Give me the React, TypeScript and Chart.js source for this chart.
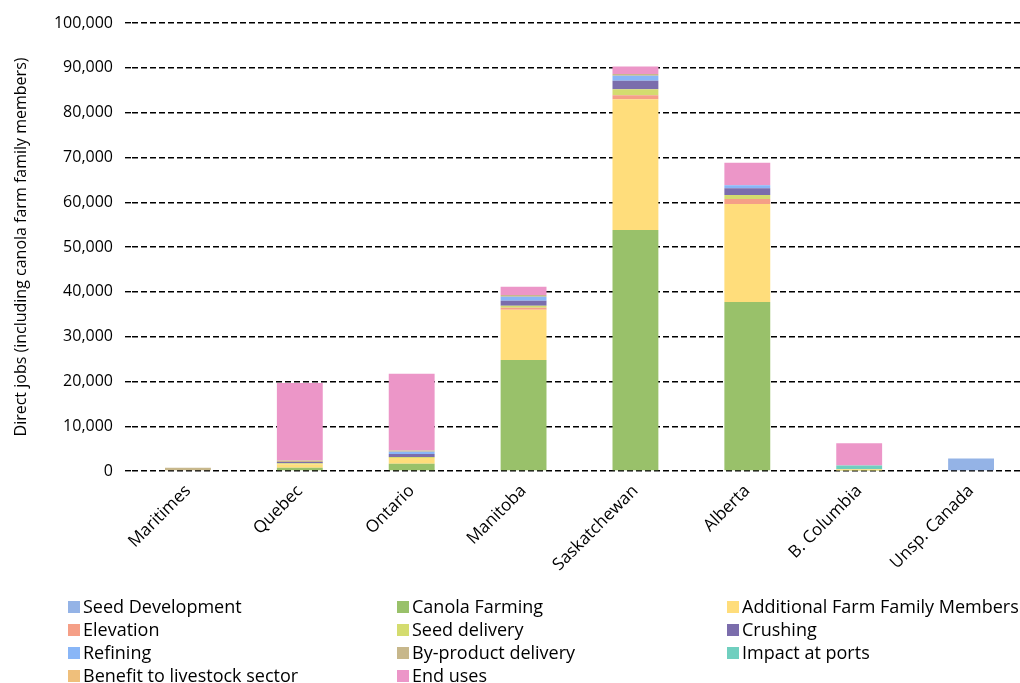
import React, { useEffect, useRef } from "react";
import { Chart, registerables } from "chart.js";
Chart.register(...registerables);

const categories = ["Maritimes", "Quebec", "Ontario", "Manitoba", "Saskatchewan", "Alberta", "B. Columbia", "Unsp. Canada"];
const seriesNames = [
  "Seed Development", "Canola Farming", "Additional Farm Family Members",
  "Elevation", "Seed delivery", "Crushing",
  "Refining", "By-product delivery", "Impact at ports",
  "Benefit to livestock sector", "End uses",
];
const seriesColors = [
  "#94b3e6", "#99c16a", "#ffdd7b",
  "#f59f87", "#d4dc6f", "#7b6dac",
  "#89b6f7", "#c7b78b", "#70cfbf",
  "#efbf7b", "#ec96c8",
];
const seedDevelopment = [0, 0, 0, 0, 0, 0, 0, 2800];
const canolaFarming = [0, 700, 1600, 24800, 53800, 37700, 100, 0];
const additionalFamily = [0, 800, 1300, 11200, 29200, 21900, 300, 0];
const elevation = [0, 0, 0, 450, 900, 1100, 0, 0];
const seedDelivery = [0, 250, 200, 450, 1300, 900, 0, 0];
const crushing = [0, 250, 700, 1100, 1900, 1500, 0, 0];
const refining = [0, 0, 500, 900, 1100, 700, 0, 0];
const byProduct = [700, 350, 300, 400, 400, 0, 0, 0];
const impactPorts = [0, 0, 0, 0, 0, 0, 800, 0];
const benefitLivestock = [0, 0, 0, 0, 0, 0, 0, 0];
const endUses = [0, 17300, 17100, 1800, 1700, 5000, 5000, 0];
const yTicks = [0, 10000, 20000, 30000, 40000, 50000, 60000, 70000, 80000, 90000, 100000];

const seriesValues = [
  seedDevelopment, canolaFarming, additionalFamily, elevation, seedDelivery,
  crushing, refining, byProduct, impactPorts, benefitLivestock, endUses,
];

const FONT = "'Open Sans', sans-serif";

const legendPlugin = {
  id: "gridLegend",
  afterDraw(chart: any) {
    const ctx = chart.ctx;
    const colX = [68, 397, 727];
    const rowY = [607, 630, 653, 676];
    ctx.save();
    ctx.font = `18px ${FONT}`;
    ctx.textBaseline = "middle";
    ctx.textAlign = "left";
    seriesNames.forEach((name, i) => {
      const x = colX[i % 3];
      const y = rowY[Math.floor(i / 3)];
      ctx.fillStyle = seriesColors[i];
      ctx.fillRect(x, y - 6, 12, 12);
      ctx.fillStyle = "#000";
      ctx.fillText(name, x + 15, y + 1);
    });
    ctx.restore();
  },
};

export default function App() {
  const ref = useRef<HTMLCanvasElement>(null);
  useEffect(() => {
    const chart = new Chart(ref.current!, {
      type: "bar",
      data: {
        labels: categories,
        datasets: seriesNames.map((n, i) => ({
          label: n,
          data: seriesValues[i],
          backgroundColor: seriesColors[i],
          borderWidth: 0,
          barPercentage: 0.41,
          categoryPercentage: 1,
        })),
      },
      options: {
        animation: false,
        responsive: false,
        maintainAspectRatio: false,
        layout: { padding: { top: 23, right: 3, left: 0, bottom: 0 } },
        plugins: { legend: { display: false }, tooltip: { enabled: false } },
        scales: {
          x: {
            stacked: true,
            grid: { display: false },
            border: { display: false },
            ticks: {
              color: "#000",
              font: { family: FONT, size: 17 },
              minRotation: 45,
              maxRotation: 45,
              padding: 2,
            },
            afterFit: (s: any) => { s.height = 683 - 471; },
          },
          y: {
            stacked: true,
            min: 0,
            max: 100000,
            afterBuildTicks: (s: any) => { s.ticks = yTicks.map((v) => ({ value: v })); },
            ticks: {
              color: "#000",
              font: { family: FONT, size: 16 },
              padding: 12,
              callback: (v: any) => Number(v).toLocaleString("en-US"),
            },
            grid: {
              color: "#000",
              lineWidth: 1.4,
              tickLength: 7,
              tickColor: "#000",
              tickBorderDash: [6, 3],
            },
            border: { display: false, dash: [6, 3] },
            title: {
              display: true,
              text: "Direct jobs (including canola farm family members)",
              color: "#000",
              font: { family: FONT, size: 16 },
              padding: { top: 12, bottom: 0 },
            },
            afterFit: (s: any) => { s.width = 132; },
          },
        },
      },
      plugins: [legendPlugin],
    });
    return () => chart.destroy();
  }, []);
  return (
    <div style={{ position: "fixed", left: 0, top: 0, width: 1020, height: 683, overflow: "hidden", background: "#fff" }}>
      <canvas ref={ref} width={1030} height={683} style={{ width: 1030, height: 683 }} />
    </div>
  );
}
